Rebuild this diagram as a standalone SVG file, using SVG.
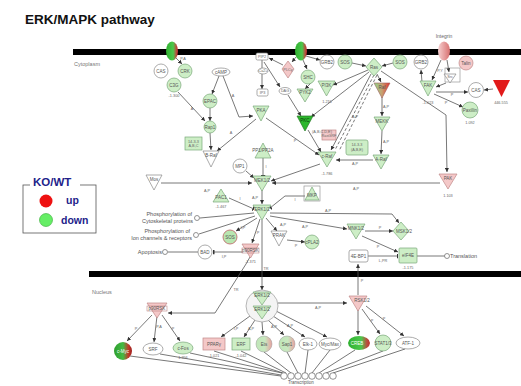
<svg xmlns="http://www.w3.org/2000/svg" width="521" height="386" viewBox="0 0 521 386">
<style>
.t{font-family:"Liberation Sans",Arial,sans-serif;font-size:4.5px;fill:#555;text-anchor:middle}
.s{font-family:"Liberation Sans",Arial,sans-serif;font-size:3.8px;fill:#666;text-anchor:middle}
.ph{font-family:"Liberation Sans",Arial,sans-serif;font-size:5.5px;fill:#555;text-anchor:end}
.lg{font-family:"Liberation Sans",Arial,sans-serif;font-weight:bold;fill:#22228a}
.g{fill:#cdeec6;stroke:#7aa87a;stroke-width:0.7}
.gd{fill:#2db82d;stroke:#2a7a2a;stroke-width:0.7}
.p{fill:#f4c8c8;stroke:#c08888;stroke-width:0.7}
.w{fill:#fff;stroke:#888;stroke-width:0.7}
.c path,.c line,.c polyline{fill:none;stroke:#555;stroke-width:0.8}
.a{marker-end:url(#ar)}
.i{marker-end:url(#in)}
.d{stroke-dasharray:3,2}
.fc{fill:#fff;stroke:#666;stroke-width:0.7}
</style>
<defs>
<marker id="ar" viewBox="0 0 6 6" refX="6" refY="3" markerWidth="4" markerHeight="4" markerUnits="userSpaceOnUse" orient="auto"><path d="M0,0L6,3L0,6z" fill="#333"/></marker>
<marker id="in" viewBox="0 0 2 6" refX="2" refY="3" markerWidth="1.5" markerHeight="5" markerUnits="userSpaceOnUse" orient="auto"><rect x="0" y="0" width="2" height="6" fill="#333"/></marker>
<linearGradient id="gr" x1="0" x2="1" y1="0" y2="0"><stop offset="0" stop-color="#2fb02f"/><stop offset="0.6" stop-color="#4cc84c"/><stop offset="0.85" stop-color="#b85040"/><stop offset="1" stop-color="#c03030"/></linearGradient>
<linearGradient id="gr2" x1="0" x2="1" y1="0" y2="0"><stop offset="0" stop-color="#2e9e2e"/><stop offset="0.5" stop-color="#44bb44"/><stop offset="0.8" stop-color="#c03a2a"/><stop offset="1" stop-color="#a02020"/></linearGradient>
<linearGradient id="gp" x1="0" x2="1" y1="0" y2="0"><stop offset="0" stop-color="#bfe6b8"/><stop offset="0.55" stop-color="#c8e8c0"/><stop offset="1" stop-color="#e8a0a0"/></linearGradient>
<linearGradient id="pk" x1="0" x2="1" y1="0" y2="0"><stop offset="0" stop-color="#f6d0d0"/><stop offset="1" stop-color="#d87070"/></linearGradient>
<linearGradient id="rg" x1="0" x2="1" y1="0" y2="0"><stop offset="0" stop-color="#8cd88c"/><stop offset="0.5" stop-color="#c8a070"/><stop offset="1" stop-color="#e03030"/></linearGradient>
</defs>
<rect width="521" height="386" fill="#fff"/>
<text x="25" y="24" font-family="Liberation Sans,Arial,sans-serif" font-weight="bold" font-size="13.5" fill="#111">ERK/MAPK pathway</text>
<rect x="73" y="49" width="448" height="6" fill="#000"/>
<rect x="89" y="271" width="432" height="6" fill="#000"/>
<text x="74" y="66" font-family="Liberation Sans,Arial,sans-serif" font-size="5.5" fill="#777">Cytoplasm</text>
<text x="92" y="294" font-family="Liberation Sans,Arial,sans-serif" font-size="5.5" fill="#777">Nucleus</text>

<g id="legend">
<rect x="23" y="185" width="73" height="48" fill="none" stroke="#555" stroke-width="0.8"/>
<rect x="30" y="178" width="50" height="12" fill="#fff"/>
<text x="33" y="186" class="lg" font-size="11.5">KO/WT</text>
<circle cx="46" cy="201" r="6.5" fill="#ee1111"/>
<text x="66" y="204" class="lg" font-size="10.5">up</text>
<circle cx="46" cy="220" r="6.5" fill="#66ee66" stroke="#3a3" stroke-width="0.6"/>
<text x="61" y="224" class="lg" font-size="10.5">down</text>
</g>

<g id="connectors" class="c">
<line class="a" x1="176" y1="58" x2="182" y2="64"/>
<line class="a" x1="178" y1="92" x2="205" y2="121"/>
<line class="a" x1="219" y1="76" x2="212" y2="94"/>
<polyline class="a" points="223,76 239,117 253,116"/>
<line class="a" x1="210" y1="108" x2="210" y2="121"/>
<line class="a" x1="210" y1="133" x2="211" y2="150"/>
<line class="a" x1="256" y1="119" x2="217" y2="151"/>
<line class="a" x1="266" y1="118" x2="319" y2="155"/>
<line class="i" x1="263" y1="158" x2="263" y2="176"/>
<line class="a" x1="246" y1="171" x2="254" y2="178"/>
<line class="a" x1="320" y1="164" x2="271" y2="181"/>
<line class="a" x1="161" y1="183" x2="252" y2="183"/>
<line class="a" x1="440" y1="183" x2="272" y2="183"/>
<line class="a" x1="262" y1="190" x2="262" y2="204"/>
<line class="i" x1="229" y1="198" x2="254" y2="209"/>
<polyline class="i" points="305,196 285,196 270,208"/>
<line x1="254" y1="213" x2="200" y2="218"/>
<line x1="255" y1="216" x2="199" y2="234"/>
<line class="a" x1="257" y1="218" x2="236" y2="231"/>
<line class="a" x1="260" y1="219" x2="252" y2="243"/>
<line class="a" x1="266" y1="218" x2="277" y2="231"/>
<line class="a" x1="270" y1="216" x2="347" y2="229"/>
<polyline class="a" points="270,213 392,214 399,223"/>
<line class="a" x1="365" y1="231" x2="393" y2="231"/>
<line class="a" x1="362" y1="236" x2="398" y2="252"/>
<line class="i" x1="368" y1="256" x2="398" y2="256"/>
<line x1="417" y1="256" x2="445" y2="256"/>
<line class="a" x1="287" y1="240" x2="305" y2="242"/>
<line x1="168" y1="252" x2="198" y2="252"/>
<line class="i" x1="242" y1="252" x2="213" y2="252"/>
<line class="a" x1="262" y1="220" x2="262" y2="290"/>
<polyline class="a" points="250,257 246,264 215,313 168,313"/>
<polyline class="a" points="381,71 446,115 447,172"/>
<line class="a" x1="358" y1="295" x2="358" y2="264"/>
<line class="a" x1="278" y1="303" x2="347" y2="303"/>
<line class="a" x1="303" y1="60" x2="307" y2="69"/>
<line class="a" x1="306" y1="56" x2="320" y2="60"/>
<line class="a" x1="352" y1="63" x2="366" y2="66"/>
<line class="a" x1="393" y1="63" x2="382" y2="66"/>
<line class="a" x1="368" y1="70" x2="333" y2="85"/>
<line class="a" x1="371" y1="74" x2="331" y2="150"/>
<line class="d" x1="374" y1="75" x2="335" y2="150"/>
<line class="d" x1="377" y1="75" x2="339" y2="151"/>
<line class="a" x1="369" y1="72" x2="311" y2="117"/>
<line class="a" x1="377" y1="74" x2="381" y2="82"/>
<line class="a" x1="382" y1="97" x2="382" y2="116"/>
<line class="a" x1="382" y1="131" x2="381" y2="154"/>
<line class="a" x1="373" y1="160" x2="336" y2="160"/>
<line class="a" x1="283" y1="65" x2="269" y2="58"/>
<line class="a" x1="262" y1="60" x2="262" y2="89"/>
<line class="a" x1="264" y1="62" x2="280" y2="87"/>
<line class="a" x1="296" y1="57" x2="292" y2="62"/>
<line class="a" x1="288" y1="95" x2="301" y2="116"/>
<line class="a" x1="308" y1="130" x2="321" y2="152"/>
<line class="a" x1="312" y1="82" x2="305" y2="89"/>
<line class="a" x1="441" y1="60" x2="432" y2="80"/>
<line class="a" x1="447" y1="60" x2="449" y2="72"/>
<line class="a" x1="422" y1="82" x2="421" y2="70"/>
<line class="a" x1="436" y1="92" x2="468" y2="92"/>
<line class="a" x1="434" y1="94" x2="463" y2="107"/>
<line class="a" x1="493" y1="89" x2="484" y2="90"/>
<line class="a" x1="446" y1="83" x2="436" y2="87"/>
<line class="a" x1="152" y1="315" x2="127" y2="341"/>
<line class="a" x1="157" y1="316" x2="154" y2="342"/>
<line class="a" x1="162" y1="315" x2="180" y2="341"/>
<line class="a" x1="250" y1="316" x2="221" y2="337"/>
<line class="a" x1="255" y1="320" x2="244" y2="337"/>
<line class="a" x1="262" y1="322" x2="263" y2="335"/>
<line class="a" x1="268" y1="320" x2="284" y2="335"/>
<line class="a" x1="273" y1="316" x2="305" y2="337"/>
<line class="a" x1="276" y1="311" x2="327" y2="337"/>
<line class="a" x1="358" y1="310" x2="358" y2="335"/>
<line class="a" x1="362" y1="309" x2="380" y2="334"/>
<line class="a" x1="366" y1="306" x2="404" y2="336"/>
<line x1="130" y1="356" x2="281" y2="376"/>
<line x1="160" y1="354" x2="281" y2="375"/>
<line x1="190" y1="353" x2="282" y2="373"/>
<line x1="214" y1="351" x2="283" y2="373"/>
<line x1="241" y1="351" x2="286" y2="373"/>
<line x1="264" y1="352" x2="291" y2="373"/>
<line x1="287" y1="352" x2="298" y2="373"/>
<line x1="308" y1="350" x2="305" y2="373"/>
<line x1="330" y1="350" x2="312" y2="373"/>
<line x1="355" y1="350" x2="319" y2="373"/>
<line x1="383" y1="351" x2="326" y2="373"/>
<line x1="405" y1="349" x2="333" y2="373"/>
</g>

<g id="edge-labels">
<text class="s" x="183" y="60">P,A</text>
<text class="s" x="192" y="110">A</text>
<text class="s" x="233" y="97">A</text>
<text class="s" x="231" y="134">A</text>
<text class="s" x="295" y="142">P</text>
<text class="s" x="266" y="168">I</text>
<text class="s" x="207" y="192">A,P</text>
<text class="s" x="356" y="190">A,P</text>
<text class="s" x="255" y="199">A,P</text>
<text class="s" x="240" y="200">I</text>
<text class="s" x="295" y="201">I</text>
<text class="s" x="243" y="229">I,P</text>
<text class="s" x="258" y="234">P</text>
<text class="s" x="283" y="226">A,P</text>
<text class="s" x="305" y="228">A,P</text>
<text class="s" x="328" y="212">A,P</text>
<text class="s" x="380" y="229">P</text>
<text class="s" x="378" y="248">P</text>
<text class="s" x="383" y="262">L,PR</text>
<text class="s" x="296" y="247">P</text>
<text class="s" x="224" y="258">I,P</text>
<text class="s" x="266" y="270">TR</text>
<text class="s" x="236" y="291">TR</text>
<text class="s" x="362" y="282">P</text>
<text class="s" x="318" y="309">A,P</text>
<text class="s" x="355" y="118">A,P</text>
<text class="s" x="386" y="108">A,P</text>
<text class="s" x="386" y="143">A,P</text>
<text class="s" x="355" y="165">A,P</text>
<text class="s" x="440" y="72">P,Y</text>
<text class="s" x="452" y="96">P</text>
<text class="s" x="446" y="104">P</text>
<text class="s" x="136" y="330">P</text>
<text class="s" x="159" y="328">P,A</text>
<text class="s" x="173" y="330">P</text>
<text class="s" x="236" y="330">I,P</text>
<text class="s" x="251" y="330">A,P</text>
<text class="s" x="274" y="328">A,P</text>
<text class="s" x="290" y="327">A,P</text>
<text class="s" x="372" y="322">P</text>
<text class="s" x="384" y="320">P</text>
</g>

<g id="n-rtk1"><ellipse cx="172" cy="51" rx="6" ry="9.5" fill="url(#gr)"/></g>
<g id="n-cas1"><circle cx="161" cy="71" r="7" class="w"/><text class="t" x="161" y="72.5">CAS</text></g>
<g id="n-crk"><circle cx="185" cy="71" r="7" class="g"/><text class="t" x="185" y="72.5">CRK</text></g>
<g id="n-c3g"><circle cx="174" cy="85" r="7" class="g"/><text class="t" x="174" y="86.5">C3G</text><text class="s" x="174" y="97">-1.300</text></g>
<g id="n-camp"><ellipse cx="221" cy="72" rx="9" ry="4" class="w"/><text class="t" x="221" y="73.5">cAMP</text></g>
<g id="n-epac"><circle cx="210" cy="101" r="7" class="g"/><text class="t" x="210" y="102.5">EPAC</text></g>
<g id="n-rap1"><circle cx="210" cy="127" r="6" class="g"/><text class="t" x="210" y="128.5">Rap1</text></g>
<g id="n-1433"><rect x="185" y="137" width="17" height="13" class="g"/><text class="s" x="193.5" y="142.5">14-3-3</text><text class="s" x="193.5" y="147">A,B,C</text></g>
<g id="n-braf"><path d="M203,151H219L211,167Z" class="w"/><text class="t" x="211" y="157">B-Raf</text></g>
<g id="n-pka"><path d="M253,106H269L261,121Z" class="g"/><text class="t" x="261" y="112">PKA</text></g>
<g id="n-mp1"><circle cx="240" cy="166" r="7" class="w"/><text class="t" x="240" y="167.5">MP1</text></g>
<g id="n-pp2a"><path d="M255,158H271L263,143Z" class="g"/><text class="t" x="263" y="151.5">PP1/PP2A</text></g>
<g id="n-mek"><path d="M253,176H271L262,191Z" class="g"/><text class="t" x="262" y="181.5">MEK1/2</text></g>
<g id="n-mos"><path d="M146,175H162L154,190Z" class="w"/><text class="t" x="154" y="181">Mos</text></g>
<g id="n-pac1"><path d="M213,202H229L221,189Z" class="g"/><text class="t" x="221" y="198.5">PAC1</text><text class="s" x="221" y="208">-1.467</text></g>
<g id="n-mkp"><rect x="304" y="186" width="16" height="15" fill="none" stroke="#888" stroke-width="0.6"/><path d="M305,200H319L312,187Z" class="g"/><text class="t" x="312" y="197">MKP</text></g>
<g id="n-erk"><path d="M253,205H271L262,220Z" class="g"/><text class="t" x="262" y="210.5">ERK1/2</text></g>
<g id="n-phos1"><circle cx="197" cy="218" r="2.5" class="fc"/><text class="ph" x="192" y="216">Phosphorylation of</text><text class="ph" x="193" y="222.5">Cytoskeletal proteins</text></g>
<g id="n-phos2"><circle cx="196" cy="235" r="2.5" class="fc"/><text class="ph" x="190" y="233">Phosphorylation of</text><text class="ph" x="192" y="239.5">Ion channels &amp; receptors</text></g>
<g id="n-apop"><circle cx="165" cy="252" r="2.5" class="fc"/><text class="ph" x="162" y="254">Apoptosis</text></g>
<g id="n-bad"><circle cx="205" cy="252" r="7" class="w"/><text class="t" x="205" y="253.5">BAD</text></g>
<g id="n-sos2"><circle cx="230" cy="237" r="7" fill="#b8e6b0" stroke="#c07070" stroke-width="0.9"/><text class="t" x="230" y="238.5">SOS</text></g>
<g id="n-prak"><path d="M271,231H287L279,246Z" class="w"/><text class="t" x="279" y="237">PRAK</text></g>
<g id="n-cpla2"><circle cx="312" cy="242" r="7" class="g"/><text class="t" x="312" y="243.5">cPLA2</text></g>
<g id="n-p90"><path d="M242,244H259L250.5,258Z" class="p"/><rect x="242" y="248" width="17" height="5" fill="none" stroke="#b07070" stroke-width="0.5"/><text class="t" x="250.5" y="252">p90RSK</text><text class="s" x="250.5" y="263">-1.371</text></g>
<g id="n-mnk"><path d="M347,224H365L356,239Z" class="g"/><text class="t" x="356" y="229.5">MNK1/2</text></g>
<g id="n-msk"><path d="M401,222L409,231L401,240L393,231Z" class="g"/><text class="t" x="404" y="232.5">MSK1/2</text></g>
<g id="n-4ebp1"><rect x="349" y="250" width="19" height="12" rx="2" class="w"/><text class="t" x="358.5" y="257.5">4E-BP1</text></g>
<g id="n-eif4e"><rect x="399" y="248" width="18" height="15" rx="1" class="g"/><text class="t" x="408" y="257">eIF4E</text><text class="s" x="408" y="269">-1.175</text></g>
<g id="n-trans"><circle cx="447" cy="256" r="2.5" class="fc"/><text x="450" y="258" font-family="Liberation Sans,Arial,sans-serif" font-size="5.5" fill="#555">Translation</text></g>
<g id="n-pak"><path d="M439,174H457L448,189Z" class="p"/><text class="t" x="448" y="180">PAK</text><text class="s" x="448" y="197">1.103</text></g>
<g id="n-craf"><path d="M318,152H336L327,167Z" class="g"/><text class="t" x="327" y="158">c-Raf</text><text class="s" x="327" y="175">-1.786</text></g>
<g id="n-ksr"><rect x="346" y="140" width="22" height="15" rx="2" class="g"/><text class="s" x="357" y="146">14-3-3</text><text class="s" x="357" y="151">(A,B,E)</text></g>
<g id="n-rasgrf"><rect x="322" y="130" width="14" height="10" class="p"/><text class="s" x="329" y="136.5">RasGRF</text></g>
<g id="n-araf"><path d="M373,155H389L381,169Z" class="g"/><text class="t" x="381" y="160.5">A-Raf</text></g>
<g id="n-rtk2"><ellipse cx="301" cy="51" rx="6" ry="9.5" fill="url(#gr)"/></g>
<g id="n-grb2a"><circle cx="327" cy="62" r="7" class="w"/><text class="t" x="327" y="63.5">GRB2</text></g>
<g id="n-sosa"><circle cx="345" cy="62" r="7" class="g"/><text class="t" x="345" y="63.5">SOS</text></g>
<g id="n-ras"><path d="M374,58L382,67L374,76L366,67Z" class="g"/><text class="t" x="374" y="68.5">Ras</text></g>
<g id="n-sosb"><circle cx="400" cy="62" r="7" class="g"/><text class="t" x="400" y="63.5">SOS</text></g>
<g id="n-grb2b"><circle cx="421" cy="62" r="7" class="w"/><text class="t" x="421" y="63.5">GRB2</text></g>
<g id="n-integrin"><ellipse cx="444" cy="51" rx="6" ry="9.5" fill="url(#pk)"/><text x="444" y="38" font-family="Liberation Sans,Arial,sans-serif" font-size="5" fill="#666" text-anchor="middle">Integrin</text></g>
<g id="n-talin"><circle cx="466" cy="63" r="7" class="p"/><text class="t" x="466" y="64.5">Talin</text></g>
<g id="n-shc"><circle cx="308" cy="77" r="7" class="g"/><text class="t" x="308" y="78.5">SHC</text></g>
<g id="n-pi3k"><path d="M318,81H335L326.5,96Z" class="g"/><text class="t" x="326.5" y="86.5">PI3K</text><text class="s" x="327" y="103">1.216</text></g>
<g id="n-pyk2"><path d="M297,89H313L305,102Z" class="g"/><text class="t" x="305" y="94">PYK2</text></g>
<g id="n-pkc"><path d="M297,116H313L305,131Z" class="gd"/><text class="t" x="305" y="121.5" style="fill:#0a3a0a">PKC</text><text class="s" x="322" y="133">(A,B,C,D,E)</text></g>
<g id="n-plcg"><path d="M288,61L294,69L288,78L282,69Z" class="p"/><text class="s" x="288" y="70.5">PLCγ</text></g>
<g id="n-pip2"><rect x="256" y="53" width="12" height="7" rx="1.5" class="w"/><text class="s" x="262" y="58">PIP2</text></g>
<g id="n-ca"><ellipse cx="263" cy="71" rx="5" ry="3" class="w"/><text class="s" x="263" y="72.3">Ca2+</text></g>
<g id="n-ip3"><rect x="257" y="89" width="11" height="7" rx="1.5" class="w"/><text class="s" x="262.5" y="94">IP3</text></g>
<g id="n-dag"><ellipse cx="285" cy="91" rx="6" ry="3.5" class="w"/><text class="s" x="285" y="92.3">DAG</text></g>
<g id="n-raf"><path d="M374,83H390L382,98Z" fill="url(#rg)" stroke="#a06060" stroke-width="0.6"/><text class="t" x="382" y="88.5">Raf</text></g>
<g id="n-mekk"><path d="M374,117H390L382,131Z" class="g"/><text class="t" x="382" y="122.5">MEKK</text></g>
<g id="n-fak"><path d="M420,81H436L428,96Z" class="g"/><text class="t" x="428" y="86.5">FAK</text><text class="s" x="428" y="104">-1.023</text></g>
<g id="n-src"><rect x="445" y="68" width="15" height="14" fill="none" stroke="#888" stroke-width="0.6"/><path d="M444,74H456L450,83Z" class="w"/><text class="s" x="450" y="77.5">Src</text></g>
<g id="n-cas2"><circle cx="476" cy="90" r="7.5" class="w"/><text class="t" x="476" y="91.5">CAS</text></g>
<g id="n-red"><path d="M493,80H510L501.5,97Z" fill="#e21a1a"/><text class="s" x="501" y="104">446.555</text></g>
<g id="n-paxillin"><circle cx="470" cy="110" r="8" class="g"/><text class="t" x="470" y="111.5">Paxillin</text><text class="s" x="470" y="124">1.092</text></g>

<g id="n-p90n"><path d="M147,303H167L157,318Z" class="p"/><rect x="147" y="306" width="20" height="5" fill="none" stroke="#b07070" stroke-width="0.5"/><text class="t" x="157" y="310">p90RSK</text></g>
<g id="n-erkn"><circle cx="262" cy="306" r="16" fill="#f4f4f4" stroke="#999" stroke-width="0.7"/><path d="M253,292H271L262,305Z" class="g"/><path d="M253,306H271L262,319Z" class="g"/><text class="t" x="262" y="297">ERK1/2</text><text class="t" x="262" y="311">ERK1/2</text></g>
<g id="n-rskn"><path d="M349,296H367L358,311Z" class="p"/><text class="t" x="362" y="302">RSK1/2</text></g>
<g id="n-cmyc"><circle cx="123" cy="351" r="9" fill="url(#gr2)"/><text class="t" x="123" y="352.5" style="fill:#fff">c-Myc</text></g>
<g id="n-srf"><ellipse cx="153" cy="349" rx="10" ry="6" class="w"/><text class="t" x="153" y="350.5">SRF</text></g>
<g id="n-cfos"><ellipse cx="183" cy="348" rx="10" ry="6" class="g"/><text class="t" x="183" y="349.5">c-Fos</text><text class="s" x="183" y="359">1.356</text></g>
<g id="n-pparg"><rect x="203" y="338" width="22" height="12" class="p"/><text class="t" x="214" y="345.5">PPARγ</text><text class="s" x="214" y="357">-1.021</text></g>
<g id="n-erf"><rect x="232" y="338" width="18" height="12" class="g"/><text class="t" x="241" y="345.5">ERF</text><text class="s" x="241" y="357">-1.042</text></g>
<g id="n-ets"><circle cx="264" cy="344" r="8" fill="url(#gp)" stroke="#999" stroke-width="0.5"/><text class="t" x="264" y="345.5">Ets</text></g>
<g id="n-sap"><circle cx="287" cy="344" r="8" fill="url(#gp)" stroke="#999" stroke-width="0.5"/><text class="t" x="287" y="345.5">Sap1</text></g>
<g id="n-elk1"><ellipse cx="308" cy="344" rx="9" ry="6" class="w"/><text class="t" x="308" y="345.5">Elk-1</text></g>
<g id="n-mycmax"><ellipse cx="330" cy="344" rx="11" ry="6" class="w"/><text class="t" x="330" y="345.5">Myc/Max</text></g>
<g id="n-creb"><ellipse cx="359" cy="343" rx="11" ry="7" fill="url(#gr)"/><text class="t" x="357" y="344.5" style="fill:#fff">CREB</text></g>
<g id="n-stat"><circle cx="383" cy="343" r="8" class="g"/><text class="t" x="383" y="344.5">STAT1/3</text></g>
<g id="n-atf1"><ellipse cx="408" cy="343" rx="12" ry="6" class="w"/><text class="t" x="408" y="344.5">ATF-1</text></g>
<g id="n-transcription">
<circle cx="284" cy="376" r="3.3" class="fc"/><circle cx="291" cy="376" r="3.3" class="fc"/><circle cx="298" cy="376" r="3.3" class="fc"/><circle cx="305" cy="376" r="3.3" class="fc"/><circle cx="312" cy="376" r="3.3" class="fc"/><circle cx="319" cy="376" r="3.3" class="fc"/><circle cx="326" cy="376" r="3.3" class="fc"/><circle cx="333" cy="376" r="3.3" class="fc"/>
<text x="288" y="383.8" font-family="Liberation Sans,Arial,sans-serif" font-size="4.5" fill="#555">Transcription</text>
</g>
</svg>
